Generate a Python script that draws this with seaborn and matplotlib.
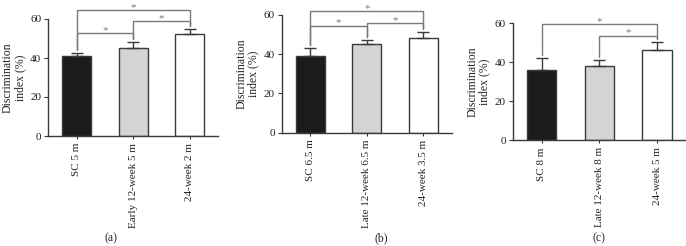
import numpy as np
import pandas as pd
import matplotlib
matplotlib.use("Agg")
import matplotlib.pyplot as plt
import seaborn as sns

# ---- data ----
labels_a = ["SC 5 m", "Early 12-week 5 m", "24-week 2 m"]
means_a = [41.2, 45.3, 52.3]
err_a = [1.5, 2.7, 2.7]
brackets_a = [(0, 1, 52.6), (1, 2, 59.0), (0, 2, 64.6)]

labels_b = ["SC 6.5 m", "Late 12-week 6.5 m", "24-week 3.5 m"]
means_b = [39.1, 45.2, 48.3]
err_b = [3.9, 1.9, 2.9]
brackets_b = [(0, 1, 54.5), (1, 2, 55.9), (0, 2, 62.0)]

labels_c = ["SC 8 m", "Late 12-week 8 m", "24-week 5 m"]
means_c = [36.2, 38.3, 46.3]
err_c = [5.8, 2.7, 4.0]
brackets_c = [(1, 2, 53.7), (0, 2, 59.5)]

panel_tags = ["(a)", "(b)", "(c)"]
bar_colors = ["#1b1b1b", "#d4d4d4", "#ffffff"]

sns.set_style("ticks")
plt.rcParams["font.family"] = ["Liberation Serif", "DejaVu Serif"]
plt.rcParams["font.size"] = 8

EDGE = "#3a3a3a"
BRK = "#7a7a7a"

fig = plt.figure(figsize=(6.86, 2.46), dpi=100)
W, H = 686, 246
# axes boxes in pixels: left, right, top, bottom
boxes = [(48.3, 218, 19, 136), (282, 451.7, 15, 132.7), (512.7, 686, 23.3, 140.3)]
tag_pos = [(111, 238), (381, 238), (599, 238)]

panels = [(labels_a, means_a, err_a, brackets_a),
          (labels_b, means_b, err_b, brackets_b),
          (labels_c, means_c, err_c, brackets_c)]

for k, (labels, means, errs, brackets) in enumerate(panels):
    l, r, t, b = boxes[k]
    ax = fig.add_axes([l / W, 1 - b / H, (r - l) / W, (b - t) / H])
    df = pd.DataFrame({"group": labels, "value": means})
    sns.barplot(data=df, x="group", y="value", hue="group", palette=bar_colors,
                width=0.51, edgecolor=EDGE, linewidth=1.0, errorbar=None,
                legend=False, ax=ax)
    x = np.arange(len(labels))
    ax.errorbar(x, means, yerr=[np.zeros(len(errs)), errs], fmt="none",
                ecolor=EDGE, elinewidth=1.0, capsize=4, capthick=1.0)
    ax.set_xlim(-0.5, 2.5)
    ax.set_ylim(0, 60)
    ax.set_yticks([0, 20, 40, 60])
    ax.set_xlabel("")
    ax.set_ylabel("Discrimination\nindex (%)", fontsize=8.5, linespacing=1.0, labelpad=3)
    ax.tick_params(axis="x", rotation=90, length=2, color=EDGE, pad=3, labelsize=8)
    ax.tick_params(axis="y", length=3, color=EDGE, pad=2, labelsize=8)
    for lab in ax.get_xticklabels() + ax.get_yticklabels():
        lab.set_color("#222222")
    sns.despine(ax=ax)
    for s in ["left", "bottom"]:
        ax.spines[s].set_color(EDGE)
        ax.spines[s].set_linewidth(1.0)

    tops = [m + e for m, e in zip(means, errs)]
    for i, j, yb in brackets:
        ax.plot([i, i, j, j], [tops[i] + 1.6, yb, yb, tops[j] + 1.6],
                color=BRK, lw=1.0, clip_on=False)
        ax.text((i + j) / 2, yb + 0.1, "*", ha="center", va="baseline",
                color=BRK, fontsize=8, clip_on=False)

    tx, ty = tag_pos[k]
    fig.text(tx / W, 1 - ty / H, panel_tags[k], ha="center", va="center", fontsize=8.5)

fig.savefig("out.png", dpi=100)
